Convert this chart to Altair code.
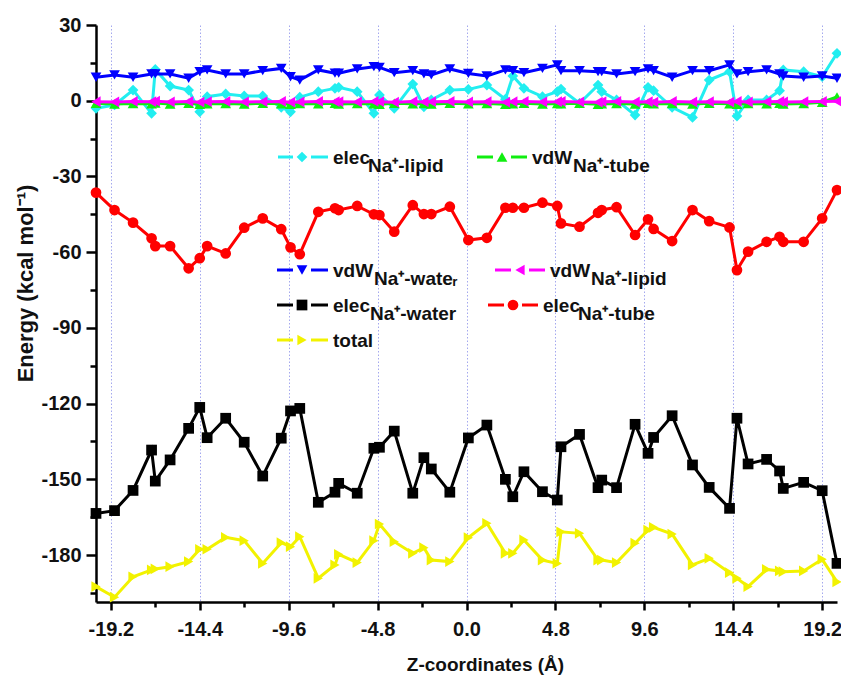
import altair as alt
import pandas as pd

# ---------------- data ----------------
z = [-20.0, -19.0, -18.0, -17.0, -16.8, -16.0, -15.0, -14.4, -14.0, -13.0,
     -12.0, -11.0, -10.0, -9.5, -9.0, -8.0, -7.1, -6.9, -5.9, -5.0,
     -4.7, -3.9, -2.9, -2.3, -1.9, -0.9, 0.1, 1.1, 2.1, 2.5,
     3.1, 4.1, 4.9, 5.1, 6.1, 7.1, 7.3, 8.1, 9.1, 9.8,
     10.1, 11.1, 12.2, 13.1, 14.2, 14.6, 15.2, 16.2, 16.9, 17.1,
     18.2, 19.2, 20.0]

elec_lipid = [-3.0, -1.7, 4.2, -5.0, 12.4, 5.8, 4.2, -4.4, 1.6, 2.7,
              1.9, 1.9, -2.6, -4.4, 1.4, 3.6, 4.9, 5.3, 3.6, -5.0,
              2.3, -3.0, 6.6, -2.4, 0.3, 4.2, 4.5, 6.2, 0.6, 9.8,
              4.9, 1.6, 3.6, 4.6, -1.0, 6.2, 3.6, 0.3, -5.7, 5.3,
              4.0, -2.6, -6.6, 8.2, 11.5, -6.1, 0.3, 0.3, 4.0, 12.2,
              11.5, 9.5, 18.8]

vdw_tube = [-1.0, -1.3, -1.1, -1.2, -0.9, -1.3, -1.0, -1.4, -1.2, -1.1,
            -1.3, -1.0, -1.2, -1.4, -1.1, -1.2, -1.0, -1.3, -1.1, -1.2,
            -1.4, -1.0, -1.2, -1.1, -1.3, -1.0, -1.2, -1.1, -1.4, -1.2,
            -1.0, -1.3, -1.1, -1.2, -1.0, -1.4, -1.2, -1.1, -1.3, -1.0,
            -1.2, -1.1, -1.3, -1.0, -1.2, -1.4, -1.1, -1.2, -1.0, -1.3,
            -1.1, -0.6, 1.5]

vdw_water = [9.3, 10.2, 9.3, 10.6, 10.6, 10.6, 8.9, 11.5, 12.2, 10.6,
             10.6, 11.9, 12.8, 9.5, 8.2, 12.2, 10.9, 10.9, 12.6, 13.5,
             13.2, 11.1, 11.9, 10.6, 10.2, 12.6, 10.8, 9.8, 12.2, 11.9,
             11.1, 12.8, 14.2, 11.9, 11.9, 11.5, 11.5, 10.6, 11.5, 12.6,
             11.9, 9.3, 11.9, 11.9, 14.2, 10.6, 11.5, 12.2, 10.6, 9.8,
             9.3, 9.8, 8.9]

vdw_lipid = [-0.4, -0.5, -0.3, -0.4, -0.2, -0.5, -0.3, -0.6, -0.4, -0.3,
             -0.5, -0.4, -0.3, -0.6, -0.5, -0.3, -0.4, -0.4, -0.5, -0.3,
             -0.4, -0.6, -0.3, -0.5, -0.4, -0.3, -0.5, -0.4, -0.6, -0.4,
             -0.3, -0.5, -0.4, -0.3, -0.5, -0.6, -0.4, -0.3, -0.5, -0.4,
             -0.6, -0.3, -0.5, -0.4, -0.6, -0.3, -0.5, -0.4, -0.3, -0.5,
             -0.4, -0.3, -0.2]

elec_water = [-163.5, -162.4, -154.4, -138.4, -150.7, -142.3, -129.8, -121.5, -133.5, -125.8,
              -135.3, -148.7, -133.7, -122.9, -121.9, -159.1, -155.1, -151.6, -155.5, -137.7,
              -137.3, -130.9, -155.5, -141.4, -145.9, -155.1, -133.6, -128.5, -150.0, -156.9,
              -147.0, -154.9, -158.2, -137.1, -132.2, -153.3, -150.3, -153.3, -128.2, -139.7,
              -133.4, -124.8, -144.3, -153.2, -161.5, -125.8, -143.9, -142.1, -146.7, -153.6,
              -151.2, -154.5, -183.3]

elec_tube = [-36.4, -43.3, -48.3, -54.5, -57.6, -57.6, -66.4, -62.4, -57.6, -60.5,
             -50.3, -46.6, -50.9, -58.1, -60.8, -44.0, -42.6, -43.3, -41.7, -45.0,
             -45.3, -51.9, -41.4, -44.9, -44.9, -42.0, -55.2, -54.3, -42.4, -42.4,
             -42.4, -40.4, -41.7, -48.6, -49.9, -44.4, -43.3, -42.2, -53.2, -47.0,
             -50.8, -55.6, -43.3, -47.7, -50.2, -67.1, -59.8, -55.9, -53.9, -55.9,
             -55.9, -46.6, -35.4]

total = [-192.5, -196.7, -188.6, -185.9, -185.5, -184.6, -182.6, -177.7, -177.7, -173.0,
         -174.3, -183.3, -175.1, -176.7, -172.7, -189.2, -183.9, -179.7, -183.0, -174.3,
         -167.7, -174.7, -179.3, -177.1, -182.0, -182.6, -173.1, -167.4, -179.3, -179.3,
         -174.0, -182.0, -183.3, -170.8, -171.4, -182.0, -182.0, -183.0, -175.3, -170.1,
         -169.0, -171.7, -183.9, -181.3, -187.0, -189.2, -192.5, -185.7, -186.3, -186.6,
         -186.3, -181.7, -190.6]

series_ids = ["elec_lipid", "vdw_tube", "vdw_water", "vdw_lipid", "elec_water", "elec_tube", "total"]
series_vals = [elec_lipid, vdw_tube, vdw_water, vdw_lipid, elec_water, elec_tube, total]
legend_main = ["elec", "vdW", "vdW", "vdW", "elec", "elec", "total"]
legend_sub = ["Na⁺-lipid", "Na⁺-tube", "Na⁺-wateᵣ", "Na⁺-lipid", "Na⁺-water", "Na⁺-tube", ""]

# ---------------- styles ----------------
colors = ["#22EEF0", "#10EE10", "#0000FF", "#FF00FF", "#000000", "#FF0000", "#F2F200"]
shapes = ["diamond", "triangle-up", "triangle-down", "triangle-left", "square", "circle", "triangle-right"]

rows = []
for sid, vals in zip(series_ids, series_vals):
    assert len(vals) == len(z), sid
    for zz, v in zip(z, vals):
        rows.append({"series": sid, "z": zz, "e": v})
df = pd.DataFrame(rows)

W, H = 741, 577
FONT = "Liberation Sans"
NARROW = "Liberation Sans Narrow, Arial Narrow, Liberation Sans"
MSIZE = 115
LW = 3

x_ticks = [round(-19.2 + 2.4 * i, 1) for i in range(17)]
y_ticks = list(range(-195, 31, 15))
xmajor = "abs(round(datum.value / 2.4)) % 2 == 0"
ymajor = "datum.value % 30 == 0"

x_axis = alt.Axis(
    values=x_ticks,
    title="Z-coordinates (Å)",
    grid=True,
    gridColor="#a4a8ee",
    gridDash=[1.5, 2],
    gridWidth=1,
    gridOpacity={"condition": {"test": xmajor, "value": 1}, "value": 0},
    tickSize={"condition": {"test": xmajor, "value": 8}, "value": 5},
    labelExpr=f"{xmajor} ? replace(format(datum.value, '.1f'), '\u2212', '-') : ''",
    labelPadding=9,
    titlePadding=16,
    titleX=389,
    titleFontSize=19,
)
y_axis = alt.Axis(
    values=y_ticks,
    title="Energy (kcal mol⁻¹)",
    grid=False,
    tickSize={"condition": {"test": ymajor, "value": 10}, "value": 6},
    labelExpr=f"{ymajor} ? '' + datum.value : ''",
    labelPadding=5,
    titlePadding=3,
    titleY=258,
    titleFontSize=22,
)

X = alt.X("z:Q", scale=alt.Scale(domain=[-20, 20], nice=False, zero=False), axis=x_axis)
Y = alt.Y("e:Q", scale=alt.Scale(domain=[-198.6, 30], nice=False, zero=False), axis=y_axis)
C = alt.Color("series:N", scale=alt.Scale(domain=series_ids, range=colors), legend=None)
S = alt.Shape("series:N", scale=alt.Scale(domain=series_ids, range=shapes), legend=None)

layers = []
for sid in series_ids:
    base = alt.Chart(df).transform_filter(alt.datum.series == sid)
    layers.append(base.mark_line(strokeWidth=LW).encode(x=X, y=Y, color=C))
    layers.append(base.mark_point(filled=True, size=MSIZE, opacity=1).encode(x=X, y=Y, color=C, shape=S))

# ---------------- legend (inside the plot, Origin style) ----------------
# per item: line start, symbol centre, line end, symbol row, text x, subscript x
leg_layout = [
    (182, 206, 232, 132, 237, 272),
    (381, 406, 431, 132, 436, 477),
    (181, 206, 232, 245, 237, 278),
    (399, 424, 449, 245, 454, 495),
    (181, 206, 232, 280, 237, 274),
    (392, 417, 442, 280, 447, 482),
    (181, 206, 232, 315, 237, 0),
]
leg_rows = []
for sid, m, s, (x0, xs, x1, yy, tx, sx) in zip(series_ids, legend_main, legend_sub, leg_layout):
    leg_rows.append({"series": sid, "x0": x0, "xa": xs - 9, "xb": xs + 9, "x1": x1, "xs": xs,
                     "y": yy, "tx": tx, "ty": yy + 7, "main": m, "sx": sx, "sy": yy + 15, "sub": s})
leg = pd.DataFrame(leg_rows)

def px(f):
    return alt.X(f"{f}:Q", scale=None, axis=None)

def py(f):
    return alt.Y(f"{f}:Q", scale=None, axis=None)

lb = alt.Chart(leg)
layers += [
    lb.mark_rule(strokeWidth=LW).encode(x=px("x0"), x2="xa:Q", y=py("y"), color=C),
    lb.mark_rule(strokeWidth=LW).encode(x=px("xb"), x2="x1:Q", y=py("y"), color=C),
    lb.mark_point(filled=True, size=MSIZE, opacity=1).encode(x=px("xs"), y=py("y"), color=C, shape=S),
    lb.mark_text(align="left", baseline="alphabetic", font=FONT, fontSize=19,
                 fontWeight="bold", color="#111111").encode(x=px("tx"), y=py("ty"), text="main:N"),
    lb.transform_filter("datum.sub != ''").mark_text(
        align="left", baseline="alphabetic", font=FONT, fontSize=19,
        fontWeight="bold", color="#111111").encode(x=px("sx"), y=py("sy"), text="sub:N"),
]

chart = alt.layer(*layers).properties(
    width=W, height=H,
    autosize=alt.AutoSizeParams(type="none"),
    padding={"left": 88, "top": 17, "right": 4, "bottom": 77},
    background="white",
).configure_view(stroke=None).configure_axis(
    domainColor="black", domainWidth=2.5, tickColor="black", tickWidth=2.5,
    labelFont=NARROW, labelFontSize=20, labelFontWeight="bold", labelColor="#111111",
    titleFont=FONT, titleFontWeight="bold", titleColor="#111111",
)

chart.save("out.html", embed_options={"renderer": "svg", "actions": False})
